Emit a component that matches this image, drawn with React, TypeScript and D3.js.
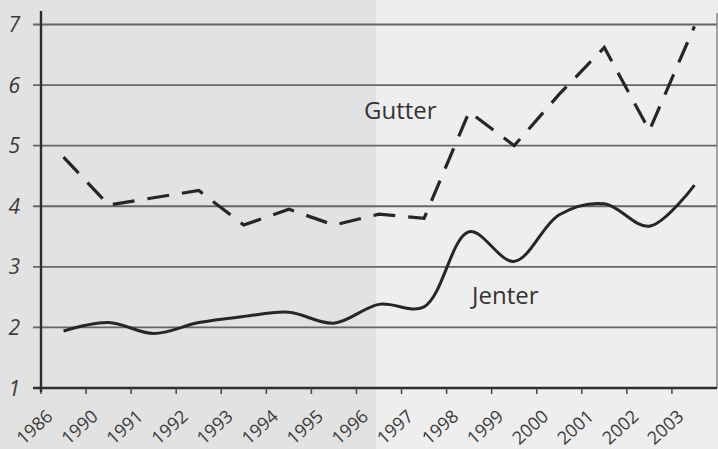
import React, { useEffect, useRef } from "react"
import * as d3 from "d3"

// years on the x axis (note the jump 1986 -> 1990)
const years = ["1986", "1990", "1991", "1992", "1993", "1994", "1995", "1996", "1997", "1998", "1999", "2000", "2001", "2002", "2003"]
const gutter = [4.81, 4.02, 4.14, 4.26, 3.69, 3.95, 3.69, 3.87, 3.8, 5.56, 5.0, 5.85, 6.62, 5.25, 6.97]
const jenter = [1.94, 2.08, 1.9, 2.08, 2.18, 2.25, 2.07, 2.38, 2.34, 3.58, 3.09, 3.86, 4.04, 3.67, 4.35]
const yTicks = [1, 2, 3, 4, 5, 6, 7]

const W = 718
const H = 449

export default function App() {
    const ref = useRef<SVGSVGElement>(null)

    useEffect(() => {
        const svg = d3.select(ref.current)
        svg.selectAll("*").remove()

        const left = 41, right = 717, top = 24.5, bottom = 388
        const x = d3.scaleBand().domain(years).range([left, right])
        const y = d3.scaleLinear().domain([1, 7]).range([bottom, top])
        const cx = (d: string) => (x(d) as number) + x.bandwidth() / 2

        // scanned page background: darker on the left, lighter on the right
        svg.append("rect").attr("width", 376).attr("height", H).attr("fill", "#e2e2e2")
        svg.append("rect").attr("x", 376).attr("width", W - 376).attr("height", H).attr("fill", "#eeeeee")

        // horizontal grid
        svg.append("g")
            .selectAll("line")
            .data(yTicks.filter(t => t > 1))
            .join("line")
            .attr("x1", 33).attr("x2", right)
            .attr("y1", d => y(d)).attr("y2", d => y(d))
            .attr("stroke", "#666").attr("stroke-width", 1.8)

        // y labels
        svg.append("g")
            .selectAll("text")
            .data(yTicks)
            .join("text")
            .attr("x", 20).attr("y", d => y(d))
            .attr("dy", "0.36em")
            .attr("text-anchor", "end")
            .attr("font-family", "'Open Sans', sans-serif")
            .attr("font-style", "italic")
            .attr("font-size", 21)
            .attr("fill", "#3a3a3a")
            .text(d => d)

        // right border
        svg.append("line")
            .attr("x1", right).attr("x2", right).attr("y1", 13).attr("y2", bottom)
            .attr("stroke", "#888").attr("stroke-width", 1.5)

        // x axis + ticks
        svg.append("line")
            .attr("x1", 33).attr("x2", right).attr("y1", bottom).attr("y2", bottom)
            .attr("stroke", "#2e2e2e").attr("stroke-width", 2.6)
        svg.append("g")
            .selectAll("line")
            .data(years)
            .join("line")
            .attr("x1", d => x(d) as number).attr("x2", d => x(d) as number)
            .attr("y1", bottom).attr("y2", bottom + 6)
            .attr("stroke", "#444").attr("stroke-width", 1.5)

        // y axis
        svg.append("line")
            .attr("x1", left).attr("x2", left).attr("y1", 11).attr("y2", bottom + 4)
            .attr("stroke", "#2e2e2e").attr("stroke-width", 2.4)

        // x labels, rotated
        svg.append("g")
            .selectAll("text")
            .data(years)
            .join("text")
            .attr("transform", d => `translate(${(x(d) as number) + 13},418) rotate(-42)`)
            .attr("text-anchor", "end")
            .attr("font-family", "'Open Sans', sans-serif")
            .attr("font-size", 18)
            .attr("fill", "#3a3a3a")
            .text(d => d)

        // Gutter - dashed polyline
        const lineG = d3.line<number>()
            .x((d, i) => cx(years[i]))
            .y(d => y(d))
        svg.append("path")
            .datum(gutter)
            .attr("d", lineG)
            .attr("fill", "none")
            .attr("stroke", "#262626")
            .attr("stroke-width", 3.2)
            .attr("stroke-dasharray", "22 13")

        // Jenter - smooth solid line
        const lineJ = d3.line<number>()
            .x((d, i) => cx(years[i]))
            .y(d => y(d))
            .curve(d3.curveCatmullRom.alpha(0.5))
        svg.append("path")
            .datum(jenter)
            .attr("d", lineJ)
            .attr("fill", "none")
            .attr("stroke", "#262626")
            .attr("stroke-width", 3)

        // series labels
        svg.append("text")
            .attr("x", 364).attr("y", 119)
            .attr("font-family", "'Open Sans', sans-serif")
            .attr("font-size", 24)
            .attr("fill", "#333")
            .text("Gutter")
        svg.append("text")
            .attr("x", 472).attr("y", 304)
            .attr("font-family", "'Open Sans', sans-serif")
            .attr("font-size", 24)
            .attr("fill", "#333")
            .text("Jenter")
    }, [])

    return (
        <svg ref={ref} width={W} height={H}
             style={{position: "absolute", left: 0, top: 0, display: "block"}} />
    )
}
